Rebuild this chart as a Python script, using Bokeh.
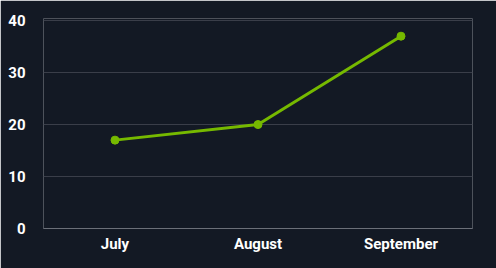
from bokeh.plotting import figure
from bokeh.models import Range1d, ColumnDataSource
from bokeh.embed import file_html
from bokeh.resources import INLINE

months = ["July", "August", "September"]
values = [17, 20, 37]
y_ticks = [0, 10, 20, 30, 40]

BG = "#131924"
GREEN = "#76b900"

src = ColumnDataSource(dict(month=months, value=values))

p = figure(width=496, height=268, x_range=months, y_range=Range1d(0, 40.4),
           output_backend="svg", toolbar_location=None,
           background_fill_color=BG, border_fill_color=BG,
           min_border_left=43, min_border_right=24, min_border_top=18, min_border_bottom=40)
p.outline_line_color = None

p.line("month", "value", source=src, line_color=GREEN, line_width=3)
p.scatter("month", "value", source=src, size=8, fill_color=GREEN, line_color=GREEN)

p.xgrid.grid_line_color = None
p.ygrid.grid_line_color = "#3a3e49"
p.ygrid.grid_line_width = 1
p.yaxis.ticker = y_ticks

for ax in (p.xaxis, p.yaxis):
    ax.major_tick_line_color = None
    ax.minor_tick_line_color = None
    ax.major_label_text_color = "#ffffff"
    ax.major_label_text_font = "Roboto"
    ax.major_label_text_font_style = "bold"
    ax.major_label_text_font_size = "15px"

p.yaxis.axis_line_color = None
p.yaxis.major_label_standoff = 12
p.xaxis.axis_line_color = "#6b6f78"
p.xaxis.axis_line_width = 1
p.xaxis.major_label_standoff = 0

open("out.html", "w").write(file_html(p, INLINE))
